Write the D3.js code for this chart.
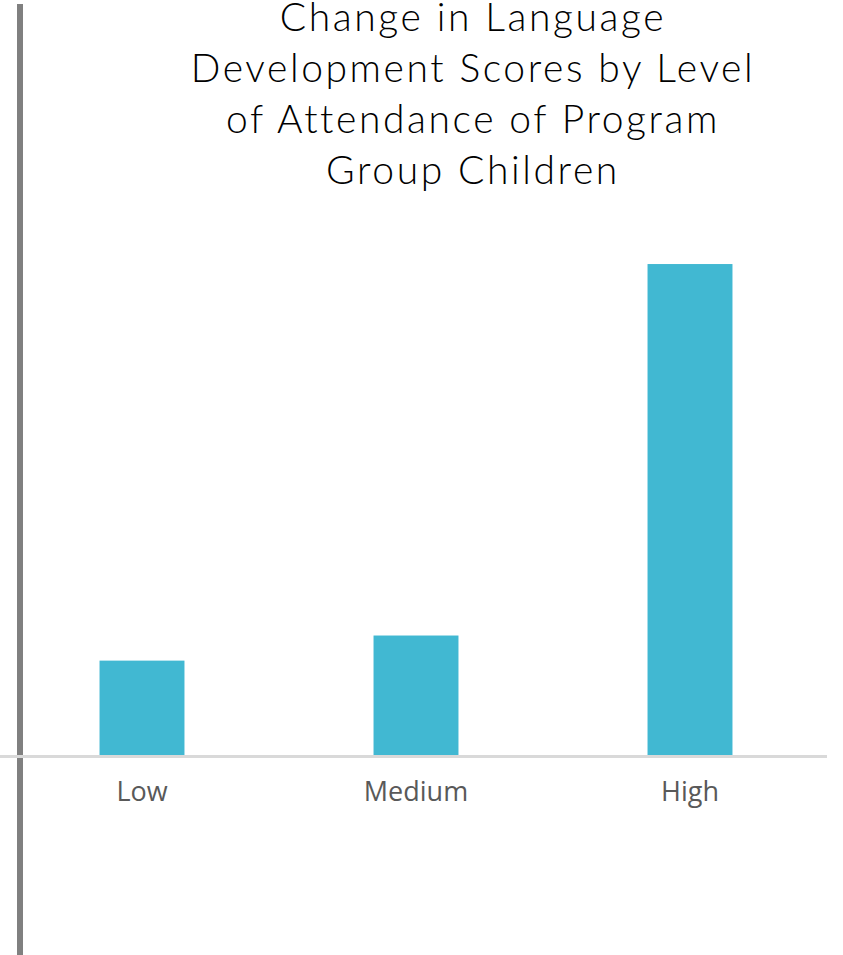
<!DOCTYPE html>
<html>
<head>
<meta charset="utf-8">
<script src="https://cdn.jsdelivr.net/npm/d3@7"></script>
<style>
  html, body { margin: 0; padding: 0; background: #ffffff; }
  svg { display: block; }
</style>
</head>
<body>
<svg id="chart" width="843" height="955"></svg>
<script>
// Attendance levels and the change in language development score for each
const levels = ["Low", "Medium", "High"];
const scoreChange = [1.9, 2.4, 9.8];
const titleLines = [
  "Change in Language",
  "Development Scores by Level",
  "of Attendance of Program",
  "Group Children"
];

const W = 843, H = 955;
const svg = d3.select("#chart");

const baseY = 756;
const x = d3.scaleBand()
  .domain(levels)
  .range([5, 827])
  .paddingInner(0.69)
  .paddingOuter(0.345);

const y = d3.scaleLinear()
  .domain([0, 10])
  .range([baseY, 254]);

// Left rule
svg.append("line")
  .attr("x1", 20).attr("x2", 20)
  .attr("y1", 4).attr("y2", H)
  .attr("stroke", "#808080")
  .attr("stroke-width", 6);

// Title
svg.append("text")
  .attr("text-anchor", "middle")
  .attr("font-family", "Lato, 'Noto Sans', sans-serif")
  .attr("font-weight", 300)
  .attr("font-size", 39)
  .attr("letter-spacing", 2.6)
  .attr("fill", "#000")
  .selectAll("tspan")
  .data(titleLines)
  .join("tspan")
  .attr("x", 473)
  .attr("y", (d, i) => 31 + i * 51)
  .text(d => d);

// Bars
svg.append("g")
  .selectAll("rect")
  .data(levels.map((l, i) => ({ level: l, value: scoreChange[i] })))
  .join("rect")
  .attr("x", d => x(d.level))
  .attr("width", x.bandwidth())
  .attr("y", d => y(d.value))
  .attr("height", d => y(0) - y(d.value))
  .attr("fill", "#41b8d2");

// Category axis
const axis = svg.append("g")
  .attr("transform", `translate(0,${baseY})`)
  .call(d3.axisBottom(x).tickSize(0).tickPadding(0));
axis.select(".domain").remove();
axis.append("line")
  .attr("x1", 0).attr("x2", 827)
  .attr("y1", 0.5).attr("y2", 0.5)
  .attr("stroke", "#d9d9d9")
  .attr("stroke-width", 3);
axis.selectAll(".tick text")
  .attr("dy", 0)
  .attr("y", 45)
  .attr("font-family", "'Open Sans', 'Noto Sans', sans-serif")
  .attr("font-size", 27)
  .attr("fill", "#595959");
</script>
</body>
</html>
